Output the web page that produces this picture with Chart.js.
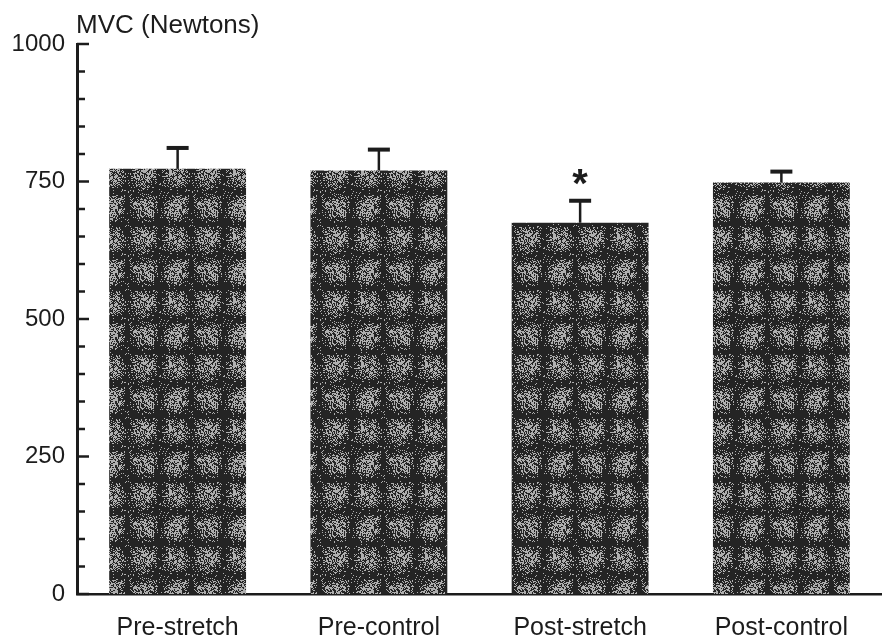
<!DOCTYPE html>
<html>
<head>
<meta charset="utf-8">
<script src="https://cdn.jsdelivr.net/npm/chart.js@4"></script>
<style>
  html, body { margin: 0; padding: 0; background: #fff; }
  #wrap { width: 882px; height: 641px; }
</style>
</head>
<body>
<div id="wrap"><canvas id="mvcChart" width="882" height="641"></canvas></div>
<script>
const categories = ['Pre-stretch', 'Pre-control', 'Post-stretch', 'Post-control'];
const mvcMean = [773, 770, 675, 748];
const mvcSem = [38, 38, 40, 20];
const significant = [false, false, true, false];
const yTickLabels = [0, 250, 500, 750, 1000];

const FONT = "'Liberation Sans', Arial, sans-serif";
const INK = '#1c1c1c';

// halftone plaid fill for the bars: soft light blotches on a dark grid
function makeBarPattern() {
    const cell = 32;
    const size = cell * 2;
    const c = document.createElement('canvas');
    c.width = size;
    c.height = size;
    const g = c.getContext('2d');
    const img = g.createImageData(size, size);
    for (let py = 0; py < size; py++) {
        for (let px = 0; px < size; px++) {
            const dx = ((px % cell) - cell / 2 + 0.5) / (cell / 2);
            const dy = ((py % cell) - cell / 2 + 0.5) / (cell / 2);
            const r2 = (Math.pow(Math.abs(dx), 2.6) + Math.pow(Math.abs(dy), 2.6));
            const blob = Math.max(0, 1 - r2 * 1.25);
            const p = 0.07 + 0.5 * blob;
            let h = Math.sin(px * 127.1 + py * 311.7 + px * py * 0.173) * 43758.5453;
            h = h - Math.floor(h);
            const v = h < p ? 175 : 36;
            const i = (py * size + px) * 4;
            img.data[i] = v;
            img.data[i + 1] = v;
            img.data[i + 2] = v;
            img.data[i + 3] = 255;
        }
    }
    g.putImageData(img, 0, 0);
    return g.createPattern(c, 'repeat');
}

const extrasPlugin = {
    id: 'extras',
    afterDatasetsDraw(chart) {
        const ctx = chart.ctx;
        const y = chart.scales.y;
        const meta = chart.getDatasetMeta(0);
        ctx.save();
        ctx.fillStyle = INK;
        ctx.strokeStyle = INK;
        meta.data.forEach((bar, i) => {
            const top = y.getPixelForValue(mvcMean[i] + mvcSem[i]);
            ctx.lineWidth = 2.5;
            ctx.beginPath();
            ctx.moveTo(bar.x, bar.y);
            ctx.lineTo(bar.x, top);
            ctx.stroke();
            ctx.fillRect(bar.x - 11, top - 2, 22, 4);
            if (significant[i]) {
                ctx.font = 'bold 40px ' + FONT;
                const m = ctx.measureText('*');
                const w = m.actualBoundingBoxLeft + m.actualBoundingBoxRight;
                const hgt = m.actualBoundingBoxAscent + m.actualBoundingBoxDescent;
                const cy = top - 24;
                ctx.textBaseline = 'alphabetic';
                ctx.fillText('*', bar.x - w / 2 + m.actualBoundingBoxLeft,
                    cy + hgt / 2 - m.actualBoundingBoxDescent);
            }
        });
        ctx.restore();
    },
    afterDraw(chart) {
        const ctx = chart.ctx;
        const y = chart.scales.y;
        const left = chart.chartArea.left;
        ctx.save();
        ctx.strokeStyle = INK;
        ctx.lineWidth = 2.5;
        y.ticks.forEach(t => {
            const py = y.getPixelForValue(t.value);
            const len = yTickLabels.includes(t.value) ? 12 : 8;
            ctx.beginPath();
            ctx.moveTo(left, py);
            ctx.lineTo(left + len, py);
            ctx.stroke();
        });
        ctx.fillStyle = INK;
        ctx.font = '26px ' + FONT;
        ctx.textBaseline = 'alphabetic';
        ctx.textAlign = 'left';
        ctx.fillText('MVC (Newtons)', 76, 33);
        ctx.restore();
    }
};

const ctx = document.getElementById('mvcChart').getContext('2d');
new Chart(ctx, {
    type: 'bar',
    data: {
        labels: categories,
        datasets: [{
            data: mvcMean,
            backgroundColor: makeBarPattern(),
            borderWidth: 0,
            barPercentage: 0.68,
            categoryPercentage: 1
        }]
    },
    options: {
        responsive: false,
        animation: false,
        devicePixelRatio: 1,
        layout: { padding: { top: 44, right: 0, bottom: 0, left: 0 } },
        plugins: {
            legend: { display: false },
            tooltip: { enabled: false }
        },
        scales: {
            x: {
                grid: { display: false, drawTicks: false },
                border: { display: true, color: INK, width: 2.5 },
                ticks: {
                    color: INK,
                    padding: 19,
                    font: { family: FONT, size: 25 },
                    maxRotation: 0,
                    autoSkip: false
                },
                afterFit(scale) { scale.height = 47; }
            },
            y: {
                min: 0,
                max: 1000,
                grid: { display: false, drawTicks: false },
                border: { display: true, color: INK, width: 3 },
                ticks: {
                    stepSize: 50,
                    color: INK,
                    padding: 12,
                    font: { family: FONT, size: 24 },
                    autoSkip: false,
                    callback: v => yTickLabels.includes(v) ? String(v) : ''
                },
                afterFit(scale) { scale.width = 77; }
            }
        }
    },
    plugins: [extrasPlugin]
});
</script>
</body>
</html>
